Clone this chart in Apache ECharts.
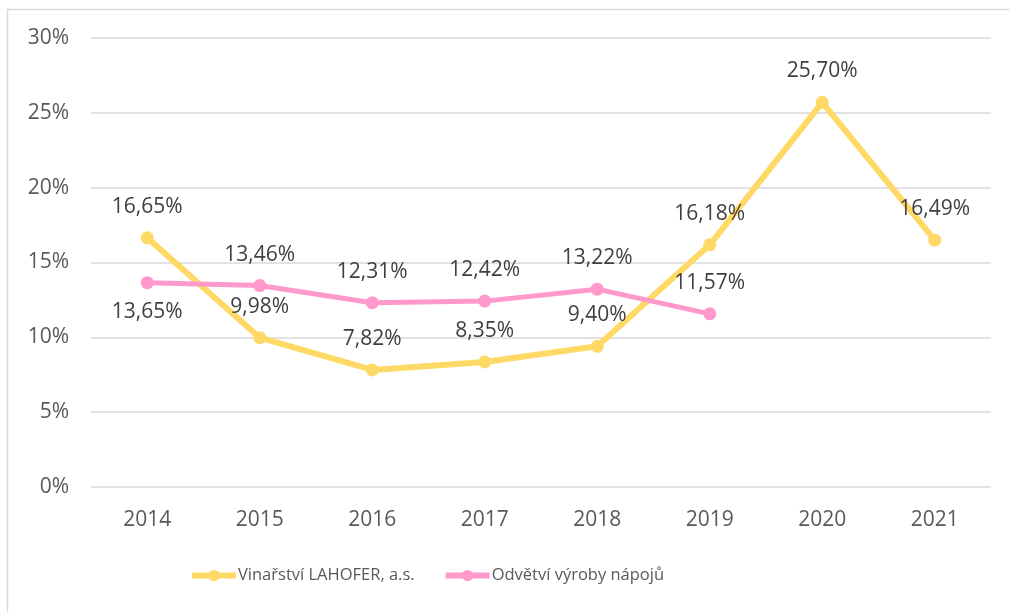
<!DOCTYPE html>
<html>
<head>
<meta charset="utf-8">
<script src="https://cdn.jsdelivr.net/npm/echarts@6/dist/echarts.min.js"></script>
<style>
html,body{margin:0;padding:0;background:#fff;}
#c{width:1009px;height:612px;}
</style>
</head>
<body>
<div id="c"></div>
<script>
const years = ['2014','2015','2016','2017','2018','2019','2020','2021'];
const lahofer = [16.65, 9.98, 7.82, 8.35, 9.40, 16.18, 25.70, 16.49];
const odvetvi = [13.65, 13.46, 12.31, 12.42, 13.22, 11.57, null, null];
const seriesNames = ['Vinařství LAHOFER, a.s.', 'Odvětví výroby nápojů'];
const yTicks = [0, 5, 10, 15, 20, 25, 30];

const FONT = '"Open Sans", sans-serif';
const fmt = v => v.toFixed(2).replace('.', ',') + '%';

const odvetviData = odvetvi.map((v, i) => i === 0
  ? {value: v, label: {position: 'bottom', distance: 12}}
  : v);

const chart = echarts.init(document.getElementById('c'), null, {renderer: 'canvas'});
chart.setOption({
  animation: false,
  backgroundColor: '#fff',
  graphic: [{
    type: 'rect',
    shape: {x: 7.5, y: 9.5, width: 1010, height: 610},
    style: {fill: null, stroke: '#d9d9d9', lineWidth: 1.5},
    silent: true, z: -1
  }],
  grid: {left: 91, right: 18, top: 38, bottom: 125},
  legend: {
    bottom: 23,
    left: 184,
    itemWidth: 44,
    itemHeight: 14,
    itemGap: 28,
    lineStyle: {width: 6},
    textStyle: {fontFamily: FONT, fontSize: 16.5, color: '#595959', padding: [0,0,0,-3]},
    data: seriesNames
  },
  xAxis: {
    type: 'category',
    data: years,
    boundaryGap: true,
    axisLine: {show: false},
    axisTick: {show: false},
    axisLabel: {fontFamily: FONT, fontSize: 21, color: '#595959', margin: 23}
  },
  yAxis: {
    type: 'value',
    min: 0, max: 30, interval: 5,
    axisLine: {show: false},
    axisTick: {show: false},
    splitLine: {lineStyle: {color: '#d9d9d9', width: 1.5}},
    axisLabel: {fontFamily: FONT, fontSize: 21, color: '#595959', margin: 22,
      formatter: v => yTicks.includes(v) ? v + '%' : ''}
  },
  series: [
    {
      name: seriesNames[0],
      type: 'line',
      data: lahofer,
      color: '#FFD966',
      lineStyle: {width: 6, color: '#FFD966'},
      symbol: 'circle', symbolSize: 13,
      itemStyle: {color: '#FFD966'},
      label: {show: true, position: 'top', distance: 14, formatter: p => fmt(p.value),
        fontFamily: FONT, fontSize: 21, color: '#404040'},
      z: 2
    },
    {
      name: seriesNames[1],
      type: 'line',
      data: odvetviData,
      color: '#FF99CC',
      lineStyle: {width: 5, color: '#FF99CC'},
      symbol: 'circle', symbolSize: 13,
      itemStyle: {color: '#FF99CC'},
      label: {show: true, position: 'top', distance: 14, formatter: p => fmt(p.value),
        fontFamily: FONT, fontSize: 21, color: '#404040'},
      z: 3
    }
  ]
});
</script>
</body>
</html>
